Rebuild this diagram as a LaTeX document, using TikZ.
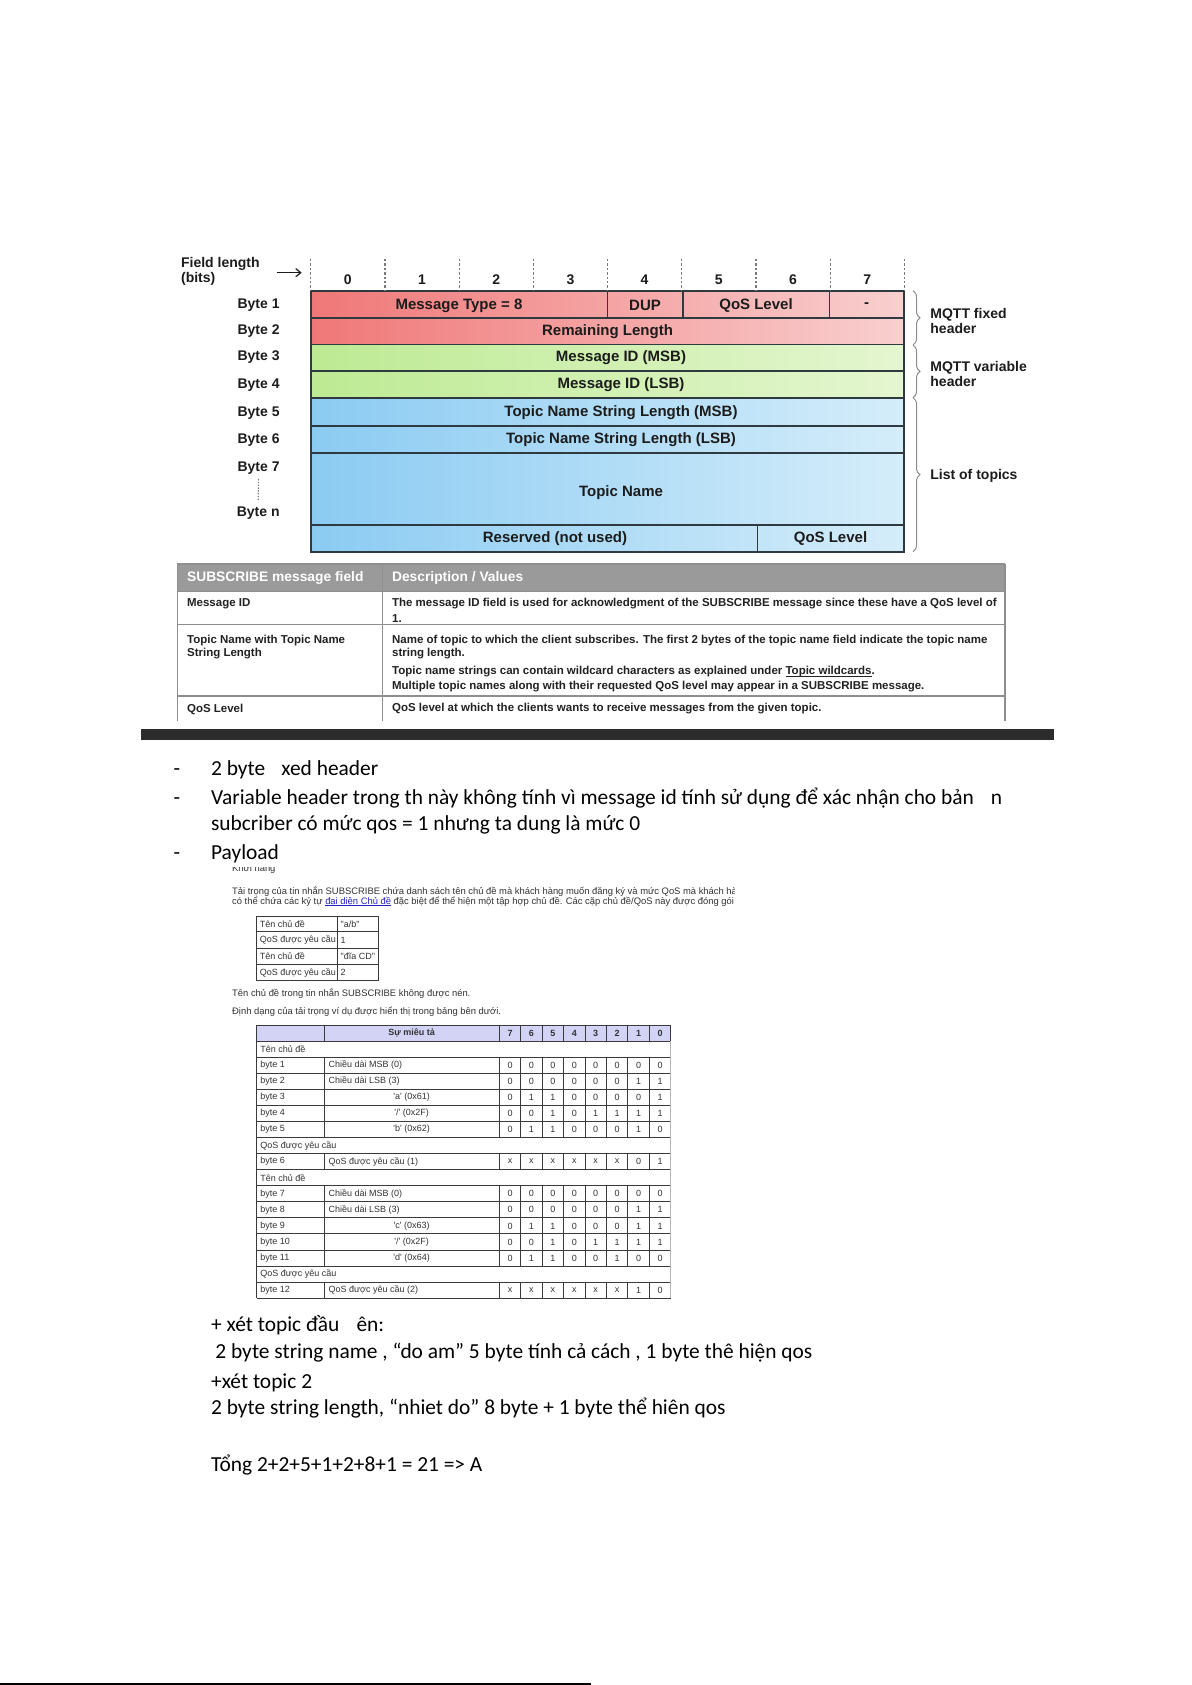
\documentclass[tikz,border=0pt]{standalone}
\usepackage{fontspec}
\setmainfont{Carlito}
\newfontfamily\pktfont{Liberation Sans}
\usepackage{tikz}
\usetikzlibrary{arrows.meta,positioning,decorations.pathreplacing}

\newcommand{\lineunder}[1]{\setbox0\hbox{#1}\rlap{\rule[-0.13em]{\wd0}{0.07em}}\box0}

\definecolor{PktRedL}{HTML}{F07777}
\definecolor{PktRedR}{HTML}{F9CFCF}
\definecolor{PktGreenL}{HTML}{BDEA93}
\definecolor{PktGreenR}{HTML}{E4F6D0}
\definecolor{PktBlueL}{HTML}{8BCBF2}
\definecolor{PktBlueR}{HTML}{D5EDFA}
\definecolor{PktEdge}{HTML}{2E3A40}
\definecolor{PktInk}{HTML}{1C1C1C}
\definecolor{BitRuleGray}{HTML}{7A7A7A}
\definecolor{BraceGray}{HTML}{8C8C8C}
\definecolor{DescHead}{HTML}{9A9A9A}
\definecolor{DescRule}{HTML}{8E8E8E}
\definecolor{DescInk}{HTML}{222222}
\definecolor{BarGray}{HTML}{2C2C2C}
\definecolor{WebInk}{HTML}{333333}
\definecolor{WebLink}{HTML}{2323C8}
\definecolor{WebHead}{HTML}{D3D3F6}
\definecolor{WebRule}{HTML}{3A3A3A}
\definecolor{WebEdge}{HTML}{B4B4B4}

\tikzset{
    % Bit field text
    pkttext/.style={
        font=\pktfont\bfseries\fontsize{7}{7.6}\selectfont,
        text=PktInk,
        inner sep=0pt,
        align=center
    },
    % Field names inside the packet
    fieldname/.style={
        pkttext,
        font=\pktfont\bfseries\fontsize{7.5}{8}\selectfont
    },
    % Byte labels on the left
    bytelabel/.style={
        pkttext,
        anchor=east
    },
    % Dashed bit markers
    bitrule/.style={
        draw=BitRuleGray,
        line width=0.6pt,
        dash pattern=on 1.2pt off 1pt
    },
    % Field outlines
    fieldrule/.style={
        draw=PktEdge,
        line width=0.8pt
    },
    % Header group braces
    groupbrace/.style={
        draw=BraceGray,
        line width=0.5pt,
        decorate,
        decoration={brace, amplitude=3.5pt}
    },
    % Description table text
    desctext/.style={
        font=\pktfont\bfseries\fontsize{5.75}{6.5}\selectfont,
        text=DescInk,
        anchor=west,
        inner sep=0pt
    },
    % Description table header
    deschead/.style={
        desctext,
        font=\pktfont\bfseries\fontsize{6.9}{7.5}\selectfont,
        text=white
    },
    descrule/.style={
        draw=DescRule,
        line width=0.6pt
    },
    % Body text of the page
    bodytext/.style={
        font=\fontsize{10.7}{13}\selectfont,
        anchor=base west,
        inner sep=0pt
    },
    % Web page capture text
    webtext/.style={
        font=\pktfont\fontsize{4.5}{5}\selectfont,
        text=WebInk,
        anchor=west,
        inner sep=0pt
    },
    webpara/.style={
        webtext,
        font=\pktfont\fontsize{4.7}{5}\selectfont
    },
    webhead/.style={
        webtext,
        font=\pktfont\bfseries\fontsize{4.5}{5}\selectfont,
        anchor=center
    },
    webrule/.style={
        draw=WebRule,
        line width=0.5pt
    }
}

\begin{document}
\begin{tikzpicture}[x=0.5pt, y=-0.5pt]
        \useasboundingbox (0,0) rectangle (1191,1685);
        \fill[white] (0,0) rectangle (1191,1685);

        % Field rows
        \shade[left color=PktRedL, right color=PktRedR] (310.7,290.7) rectangle (904,344.3);
        \shade[left color=PktGreenL, right color=PktGreenR] (310.7,344.3) rectangle (904,397.7);
        \shade[left color=PktBlueL, right color=PktBlueR] (310.7,397.7) rectangle (904,551.7);
        \foreach \y in {317.7,344.3,371,397.7,425.7,452.7,525}
            \draw[fieldrule] (310.7,\y) -- (904,\y);
        \foreach \x in {607.3,682.7,829.3}
            \draw[fieldrule] (\x,290.7) -- (\x,317.7);
        \draw[fieldrule] (757.3,525) -- (757.3,551.7);
        \draw[fieldrule] (310.7,290.7) rectangle (904,551.7);

        % Bit positions
        \foreach \b in {0,...,8}
            \draw[bitrule] (310.7+74.2*\b,259) -- (310.7+74.2*\b,290.7);
        \foreach \b in {0,...,7}
            \node[pkttext] (bit\b) at (347.8+74.2*\b,279.3) {\b};
        \node[pkttext, anchor=west, align=left] (fieldlen) at (180.7,271.5) {Field length\\(bits)};
        \coordinate (lenfrom) at (276.7,272.7);
        \coordinate (lento) at (301.7,272.7);
        \draw[-{Straight Barb[length=2.5pt,width=4pt]}, draw=PktInk, line width=0.6pt] (lenfrom) -- (lento);

        % Byte labels
        \foreach \nb/\y in {1/305,2/331,3/357.5,4/385,5/413,6/440.5,7/468.3}
            \node[bytelabel] (byte\nb) at (280,\y) {Byte \nb};
        \node[bytelabel] (byten) at (280,513.3) {Byte n};
        \draw[bitrule, dash pattern=on 0.7pt off 0.7pt] ([yshift=-2pt]byte7.south) -- ([yshift=3pt]byten.north);

        % Field names
        \node[fieldname] (msgtype) at (459,305.5) {Message Type = 8};
        \node[fieldname] (dup) at (645,305.5) {DUP};
        \node[fieldname] (qosfix) at (756,305.5) {QoS Level};
        \node[fieldname] (unused) at (866.7,305.5) {-};
        \node[fieldname] (remlen) at (607.5,331.5) {Remaining Length};
        \node[fieldname] (msgmsb) at (621,357.7) {Message ID (MSB)};
        \node[fieldname] (msglsb) at (621,385) {Message ID (LSB)};
        \node[fieldname] (lenmsb) at (621,413) {Topic Name String Length (MSB)};
        \node[fieldname] (lenlsb) at (621,439.5) {Topic Name String Length (LSB)};
        \node[fieldname] (topic) at (621,492.5) {Topic Name};
        \node[fieldname] (reserved) at (555,539) {Reserved (not used)};
        \node[fieldname] (qostopic) at (830.5,539) {QoS Level};

        % Header groups
        \draw[groupbrace] (913,290.7) -- (913,345);
        \draw[groupbrace] (913,345) -- (913,397.7);
        \draw[groupbrace] (913,397.7) -- (913,551.7);
        \node[pkttext, anchor=west, align=left] (fixedlbl) at (930,321) {MQTT fixed\\header};
        \node[pkttext, anchor=west, align=left] (varlbl) at (930,374) {MQTT variable\\header};
        \node[pkttext, anchor=west] (topiclbl) at (930,476) {List of topics};

        % SUBSCRIBE field table
        \fill[DescHead] (177.3,564) rectangle (1005,591.7);
        \foreach \y in {564,591.7,624.3,696}
            \draw[descrule] (177.3,\y) -- (1005,\y);
        \foreach \x in {177.3,382.3,1005}
            \draw[descrule] (\x,564) -- (\x,720.7);
        \node[deschead] (fieldhd) at (186.7,578) {SUBSCRIBE message field};
        \node[deschead] (valuehd) at (391.7,578) {Description / Values};
        \node[desctext] (idname) at (186.7,603.3) {Message ID};
        \node[desctext] (iddesc1) at (391.7,603.3) {The message ID field is used for acknowledgment of the SUBSCRIBE message since these have a QoS level of};
        \node[desctext] (iddesc2) at (391.7,619) {1.};
        \node[desctext] (topicname1) at (186.7,641) {Topic Name with Topic Name};
        \node[desctext] (topicname2) at (186.7,653.3) {String Length};
        \node[desctext] (topicdesc1) at (391.7,641) {Name of topic to which the client subscribes. The first 2 bytes of the topic name field indicate the topic name};
        \node[desctext] (topicdesc2) at (391.7,653.3) {string length.};
        \node[desctext] (topicdesc3) at (391.7,672) {Topic name strings can contain wildcard characters as explained under \lineunder{Topic wildcards}.};
        \node[desctext] (topicdesc4) at (391.7,687) {Multiple topic names along with their requested QoS level may appear in a SUBSCRIBE message.};
        \node[desctext] (qosname) at (186.7,709) {QoS Level};
        \node[desctext] (qosdesc) at (391.7,709) {QoS level at which the clients wants to receive messages from the given topic.};
        \fill[BarGray] (140.8,729) rectangle (1053.5,739.6);

        % Notes
        \foreach \nb/\y in {1/775.6,2/804.3,3/859.4}
            \node[bodytext, anchor=base] (dash\nb) at (177,\y) {-};
        \node[bodytext] (fixedtxt) at (210.7,775.6) {2 byte\hspace{0.75em}xed header};
        \node[bodytext] (vartxt1) at (210.7,804.3) {Variable header trong th này không tính vì message id tính sử dụng để xác nhận cho bản\hspace{0.8em}n};
        \node[bodytext] (vartxt2) at (210.7,830.7) {subcriber có mức qos = 1 nhưng ta dung là mức 0};
        \node[bodytext] (payloadtxt) at (210.7,859.4) {Payload};

        % Web capture: payload text
        \begin{scope}
            \clip (222,867) rectangle (734,1022);
            \node[webpara, anchor=base west] (webcut) at (231.8,871.5) {Khởi hàng};
            \node[webpara] (webline1) at (231.8,891.4) {Tải trọng của tin nhắn SUBSCRIBE chứa danh sách tên chủ đề mà khách hàng muốn đăng ký và mức QoS mà khách hàng};
            \node[webpara] (webline2) at (231.8,901.5) {có thể chứa các ký tự \textcolor{WebLink}{\lineunder{đại diện Chủ đề}} đặc biệt để thể hiện một tập hợp chủ đề. Các cặp chủ đề/QoS này được đóng gói lại};
            \draw[webrule] (256.5,916.4) rectangle (378,980.9);
            \draw[webrule] (337.2,916.4) -- (337.2,980.9);
            \foreach \y in {931.9,948.1,964.7}
                \draw[webrule] (256.5,\y) -- (378,\y);
            \foreach \i/\y/\key/\val in {1/924.2/Tên chủ đề/{"a/b"},2/940/QoS được yêu cầu/1,3/956.4/Tên chủ đề/{"đĩa CD"},4/972.8/QoS được yêu cầu/2} {
                \node[webtext] (pairkey\i) at (259.5,\y) {\key};
                \node[webtext] (pairval\i) at (340.2,\y) {\val};
            }
            \node[webpara] (webline3) at (231.8,993) {Tên chủ đề trong tin nhắn SUBSCRIBE không được nén.};
            \node[webpara] (webline4) at (231.8,1012) {Định dạng của tải trọng ví dụ được hiển thị trong bảng bên dưới.};
        \end{scope}

        % Web capture: payload table
        \fill[WebHead] (256.7,1025) rectangle (670.7,1041);
        \draw[webrule] (256.7,1025) -- (670.7,1025);
        \foreach \k in {0,...,16}
            \draw[webrule] (256.7,1041+16.08*\k) -- (670.7,1041+16.08*\k);
        \draw[webrule] (256.7,1025) -- (256.7,1298.3);
        \draw[webrule, draw=WebEdge] (670.7,1041) -- (670.7,1298.3);
        \foreach \xr in {324,499.3,520.7,542.2,563.6,585,606.5,627.9,649.3,670.7}
            \draw[webrule] (\xr,1025) -- (\xr,1041);
        \node[webhead] (webhdesc) at (411.7,1033) {Sự miêu tả};
        \foreach \col in {0,...,7} {
            \pgfmathtruncatemacro\bitno{7-\col}
            \node[webhead] (webhbit\col) at (510+21.43*\col,1033) {\bitno};
        }
        \foreach \i/\sect in {0/Tên chủ đề,6/QoS được yêu cầu,8/Tên chủ đề,14/QoS được yêu cầu}
            \node[webtext] (sect\i) at (260,1049.04+16.08*\i) {\sect};
        \foreach \i/\lbl/\anc/\dx/\desc/\bits in {
            1/byte 1/west/328.3/{Chiều dài MSB (0)}/{0,0,0,0,0,0,0,0},
            2/byte 2/west/328.3/{Chiều dài LSB (3)}/{0,0,0,0,0,0,1,1},
            3/byte 3/center/411.7/{'a' (0x61)}/{0,1,1,0,0,0,0,1},
            4/byte 4/center/411.7/{'/' (0x2F)}/{0,0,1,0,1,1,1,1},
            5/byte 5/center/411.7/{'b' (0x62)}/{0,1,1,0,0,0,1,0},
            7/byte 6/west/328.3/{QoS được yêu cầu (1)}/{x,x,x,x,x,x,0,1},
            9/byte 7/west/328.3/{Chiều dài MSB (0)}/{0,0,0,0,0,0,0,0},
            10/byte 8/west/328.3/{Chiều dài LSB (3)}/{0,0,0,0,0,0,1,1},
            11/byte 9/center/411.7/{'c' (0x63)}/{0,1,1,0,0,0,1,1},
            12/byte 10/center/411.7/{'/' (0x2F)}/{0,0,1,0,1,1,1,1},
            13/byte 11/center/411.7/{'d' (0x64)}/{0,1,1,0,0,1,0,0},
            15/byte 12/west/328.3/{QoS được yêu cầu (2)}/{x,x,x,x,x,x,1,0}} {
            \pgfmathsetmacro\rowtop{1041+16.08*\i}
            \node[webtext] (wblbl\i) at (260,\rowtop+8.04) {\lbl};
            \node[webtext, anchor=\anc] (wbdesc\i) at (\dx,\rowtop+8.04) {\desc};
            \foreach \bitv [count=\col from 0] in \bits
                \node[webtext, anchor=center] (wb\i-\col) at (510+21.43*\col,\rowtop+8.04) {\bitv};
            \foreach \xr in {324,499.3,520.7,542.2,563.6,585,606.5,627.9,649.3}
                \draw[webrule] (\xr,\rowtop) -- (\xr,\rowtop+16.08);
        }

        % Byte count
        \node[bodytext] (topic1hd) at (210.7,1331) {+ xét topic đầu\hspace{0.8em}ên:};
        \node[bodytext] (topic1txt) at (215,1358) {2 byte string name , “do am” 5 byte tính cả cách , 1 byte thê hiện qos};
        \node[bodytext] (topic2hd) at (210.7,1388) {+xét topic 2};
        \node[bodytext] (topic2txt) at (210.7,1414) {2 byte string length, “nhiet do” 8 byte + 1 byte thể hiên qos};
        \node[bodytext] (totaltxt) at (210.7,1471) {Tổng 2+2+5+1+2+8+1 = 21 => A};

        % Page foot
        \coordinate (footl) at (0,1684);
        \coordinate (footr) at (591,1684);
        \draw[line width=1pt] (footl) -- (footr);
    \end{tikzpicture}
\end{document}
